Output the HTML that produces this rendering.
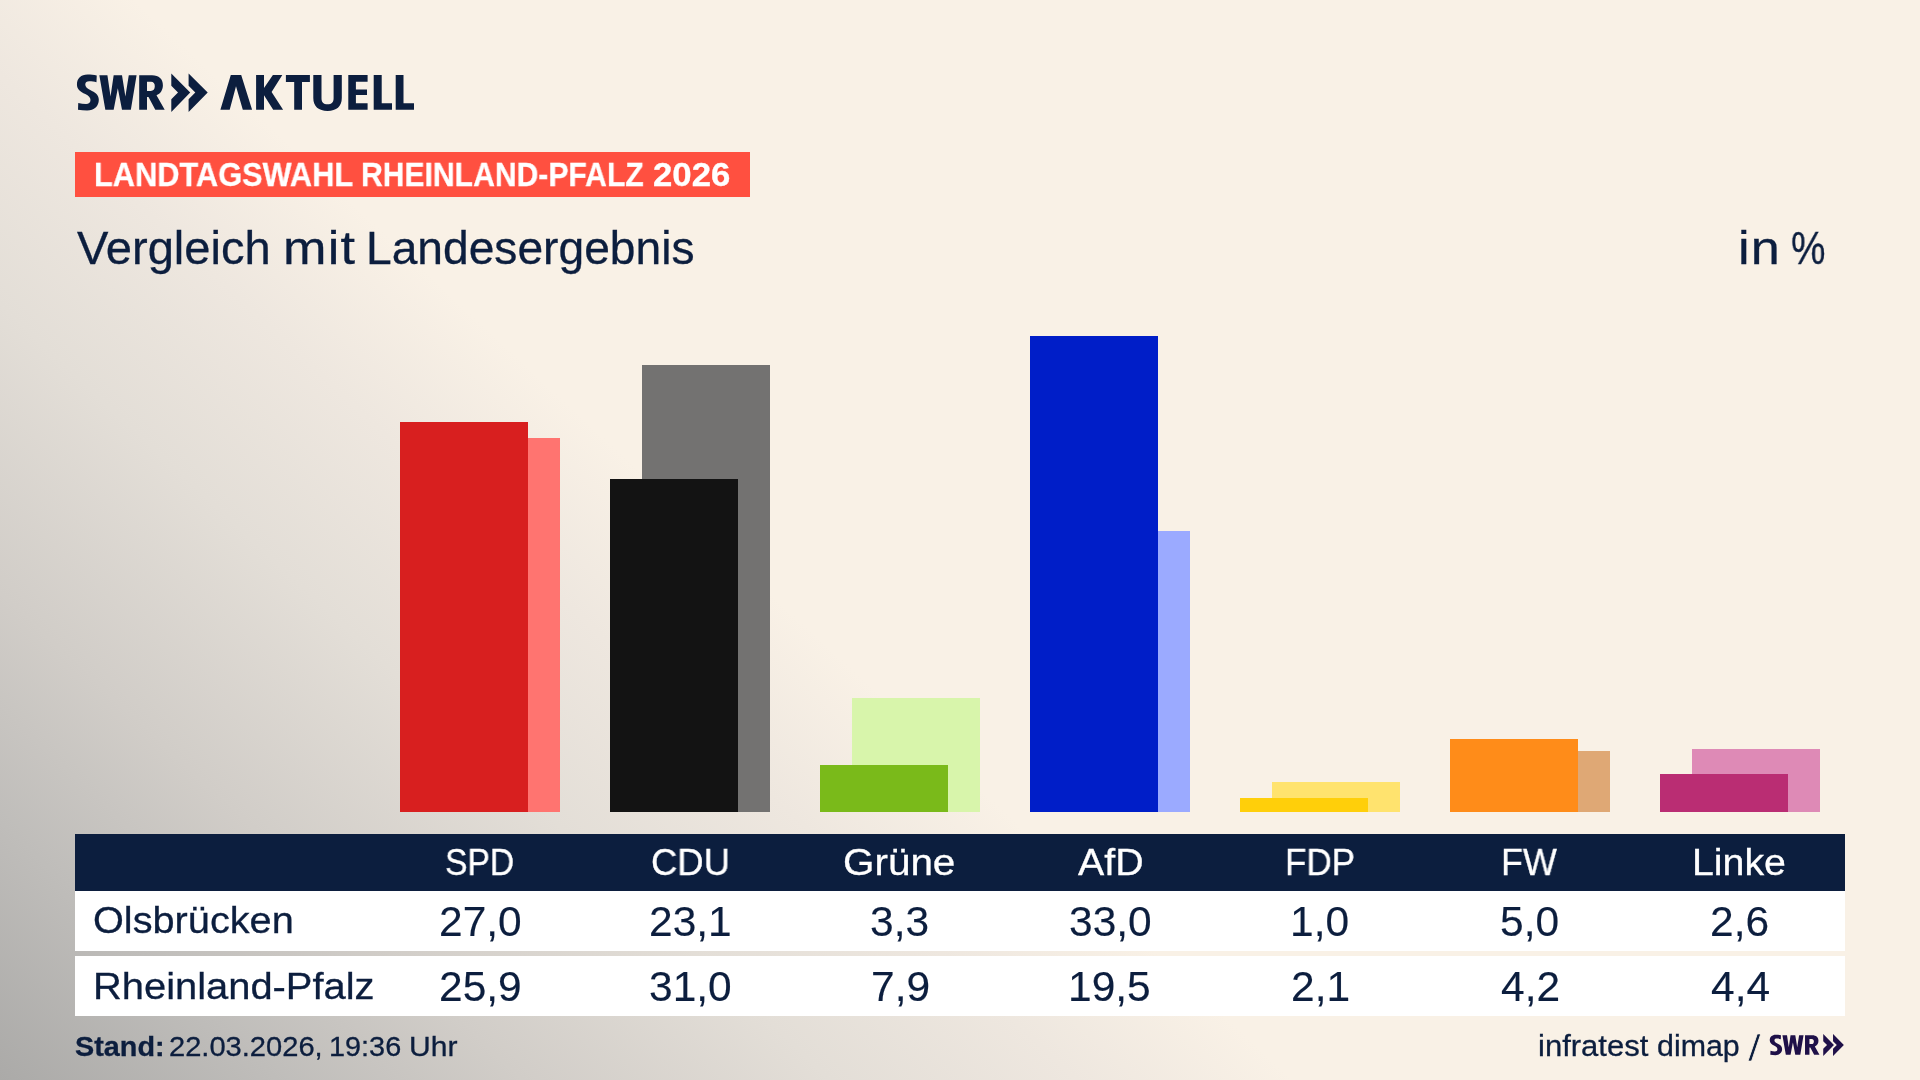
<!DOCTYPE html>
<html lang="de"><head><meta charset="utf-8"><title>Landtagswahl Rheinland-Pfalz 2026 – Vergleich mit Landesergebnis</title>
<style>
html,body{margin:0;padding:0}
body{width:1920px;height:1080px;overflow:hidden;position:relative;font-family:"Liberation Sans",sans-serif;background:#f9f1e6}
#bg{position:absolute;left:0;top:0;width:1920px;height:1080px;background:linear-gradient(43deg,#abaaa8 0%,#bfbdba 9%,#d1cdc8 17%,#e3ded7 27%,#eee7df 35%,#f9f1e6 42%)}
.l{margin:0;padding:0;position:absolute;left:0;top:0;line-height:1}
.t{position:absolute;white-space:nowrap;line-height:1;transform-origin:0 0;-webkit-text-stroke:0.3px currentColor;will-change:transform}
.b{position:absolute;width:128px}
.r{position:absolute;left:75px;width:1770px}
svg{position:absolute;left:0;top:0}
</style></head><body>
<div id="bg"></div>
<div class="r" style="top:152px;width:675px;height:45px;background:#ff5040"></div>
<div class="b" style="left:432px;top:438px;height:374px;background:#ff7470"></div>
<div class="b" style="left:400px;top:422px;height:390px;background:#d81f1f"></div>
<div class="b" style="left:642px;top:365px;height:447px;background:#737271"></div>
<div class="b" style="left:610px;top:479px;height:333px;background:#131313"></div>
<div class="b" style="left:852px;top:698px;height:114px;background:#d8f5ab"></div>
<div class="b" style="left:820px;top:765px;height:47px;background:#7aba1a"></div>
<div class="b" style="left:1062px;top:531px;height:281px;background:#9baaff"></div>
<div class="b" style="left:1030px;top:336px;height:476px;background:#001ec8"></div>
<div class="b" style="left:1272px;top:782px;height:30px;background:#ffe36e"></div>
<div class="b" style="left:1240px;top:798px;height:14px;background:#ffcf0a"></div>
<div class="b" style="left:1482px;top:751px;height:61px;background:#dfa875"></div>
<div class="b" style="left:1450px;top:739px;height:73px;background:#ff8c19"></div>
<div class="b" style="left:1692px;top:749px;height:63px;background:#de8ab6"></div>
<div class="b" style="left:1660px;top:774px;height:38px;background:#ba2d73"></div>
<div class="r" style="top:834px;height:57px;background:#0c1e3e"></div>
<div class="r" style="top:891px;height:60px;background:#fff"></div>
<div class="r" style="top:956px;height:60px;background:#fff"></div>
<svg width="1920" height="1080" viewBox="0 0 1920 1080">
<defs>
<g id="swr">
<path d="M96.74 75.55C93.88 74.77 90.75 74.51 87.62 74.51C80.85 74.51 76.95 78.42 76.95 84.41C76.95 89.35 80.33 91.44 85.28 94.04C88.67 95.86 90.49 97.43 90.49 100.03C90.49 102.64 88.67 103.94 86.06 103.94C83.46 103.94 80.85 103.68 78.25 102.9L77.99 109.67C80.85 110.19 83.98 110.45 87.1 110.45C94.4 110.45 98.82 106.02 98.82 99.77C98.82 94.56 94.92 92.22 90.23 89.88C86.84 88.31 85.28 86.75 85.28 84.41C85.28 82.32 86.84 81.28 89.19 81.28C91.79 81.28 94.4 81.65 96.48 82.32Z"/>
<path d="M99.34 75.3L107.42 75.3L110.54 96.4L113.67 75.3L122 75.3L125.39 96.4L128.77 75.3L136.58 75.3L130.85 109.7L122 109.7L117.83 88.3L113.67 109.7L105.33 109.7Z"/>
<path fill-rule="evenodd" d="M139.2 75.3H152C159 75.3 162.9 79 162.9 85.2C162.9 90 160.5 93.5 156.5 95.3L164.7 109.7H155.3L148.5 97H147V109.7H139.2ZM147 81.8H151C153.5 81.8 154.8 83.5 154.8 86.3C154.8 89.2 153.3 90.9 150.8 90.9H147Z"/>
<path d="M171.3 73.4L190.2 92.5L171.3 111.9V99.3L178 92.5L171.3 85.8Z"/>
<path d="M188.6 73.4L207.7 92.5L188.6 111.9V99.3L195.3 92.5L188.6 85.8Z"/>
</g>
</defs>
<g fill="#0c1e3e" color="#0c1e3e">
<use href="#swr"/>
<path d="M220.4 109.8L230.8 75H241.2L252.1 109.8H242.8L236 86.3L229.7 109.8Z"/>
<path d="M256.1 75H264V88L272.9 75H282.3L271.6 91.9L283.1 109.8H273.2L264 95.3V109.8H256.1Z"/>
<path d="M285.9 75H309.9V81.9H302V109.8H294.2V81.9H285.9Z"/>
<path d="M313.3 75H321.5V98.2C321.5 102.2 323.5 104.3 327.55 104.3C331.6 104.3 333.6 102.2 333.6 98.2V75H341.8V98C341.8 106.5 336.5 110.9 327.6 110.9C318.7 110.9 313.3 106.5 313.3 98Z"/>
<path d="M348.3 75H367.6V81.8H355.9V89.5H367V95.1H355.9V103.3H367.6V109.8H348.3Z"/>
<path d="M373.7 75H381.7V103.3H392V109.8H373.7Z"/>
<path d="M395.7 75H403.5V103.3H414V109.8H395.7Z"/>
</g>
<g fill="#1f1048" color="#1f1048"><use href="#swr" transform="translate(1726.1,992.5) scale(0.567)"/></g>
</svg>

<h1 class="l" style="font-size:33.3px;color:#fff;font-weight:700"><span class="t" style="left:93.75px;top:158px;transform:scaleX(0.9237)">LANDTAGSWAHL</span> <span class="t" style="left:361.29px;top:158px;transform:scaleX(0.9045)">RHEINLAND-PFALZ</span> <span class="t" style="left:652.56px;top:158px;transform:scaleX(1.0431)">2026</span></h1>
<h2 class="l" style="font-size:45.8px;color:#0c1e3e;font-weight:400"><span class="t" style="left:76.90px;top:226px;transform:scaleX(1.0280)">Vergleich</span> <span class="t" style="left:283.08px;top:226px;transform:scaleX(1.1400);letter-spacing:1.04px">mit</span> <span class="t" style="left:366.27px;top:226px;transform:scaleX(1.0078)">Landesergebnis</span></h2>
<div class="l" style="font-size:45.8px;color:#0c1e3e;font-weight:400"><span class="t" style="left:1737.58px;top:226px;transform:scaleX(1.1400);letter-spacing:0.92px">in</span> <span class="t" style="left:1791.21px;top:226px;transform:scaleX(0.8459)">%</span></div>
<div class="l" style="font-size:37.2px;color:#fff;font-weight:400"><span class="t" style="left:445.14px;top:844px;transform:scaleX(0.9055)">SPD</span></div>
<div class="l" style="font-size:37.2px;color:#fff;font-weight:400"><span class="t" style="left:650.79px;top:844px;transform:scaleX(0.9803)">CDU</span></div>
<div class="l" style="font-size:37.2px;color:#fff;font-weight:400"><span class="t" style="left:843.48px;top:844px;transform:scaleX(1.0870)">Grüne</span></div>
<div class="l" style="font-size:37.2px;color:#fff;font-weight:400"><span class="t" style="left:1078.30px;top:844px;transform:scaleX(1.0567)">AfD</span></div>
<div class="l" style="font-size:37.2px;color:#fff;font-weight:400"><span class="t" style="left:1284.67px;top:844px;transform:scaleX(0.9420)">FDP</span></div>
<div class="l" style="font-size:37.2px;color:#fff;font-weight:400"><span class="t" style="left:1500.55px;top:844px;transform:scaleX(0.9655)">FW</span></div>
<div class="l" style="font-size:37.2px;color:#fff;font-weight:400"><span class="t" style="left:1692.43px;top:844px;transform:scaleX(1.0571)">Linke</span></div>
<div class="l" style="font-size:37px;color:#0c1e3e;font-weight:400"><span class="t" style="left:93.05px;top:902px;transform:scaleX(1.0727)">Olsbrücken</span></div>
<div class="l" style="font-size:42px;color:#0c1e3e;font-weight:400"><span class="t" style="left:438.51px;top:901px;transform:scaleX(1.0120);-webkit-text-stroke-width:0.15px">27,0</span></div>
<div class="l" style="font-size:42px;color:#0c1e3e;font-weight:400"><span class="t" style="left:648.51px;top:901px;transform:scaleX(1.0120);-webkit-text-stroke-width:0.15px">23,1</span></div>
<div class="l" style="font-size:42px;color:#0c1e3e;font-weight:400"><span class="t" style="left:870.15px;top:901px;transform:scaleX(1.0120);-webkit-text-stroke-width:0.15px">3,3</span></div>
<div class="l" style="font-size:42px;color:#0c1e3e;font-weight:400"><span class="t" style="left:1068.51px;top:901px;transform:scaleX(1.0120);-webkit-text-stroke-width:0.15px">33,0</span></div>
<div class="l" style="font-size:42px;color:#0c1e3e;font-weight:400"><span class="t" style="left:1289.64px;top:901px;transform:scaleX(1.0120);-webkit-text-stroke-width:0.15px">1,0</span></div>
<div class="l" style="font-size:42px;color:#0c1e3e;font-weight:400"><span class="t" style="left:1500.15px;top:901px;transform:scaleX(1.0120);-webkit-text-stroke-width:0.15px">5,0</span></div>
<div class="l" style="font-size:42px;color:#0c1e3e;font-weight:400"><span class="t" style="left:1710.15px;top:901px;transform:scaleX(1.0120);-webkit-text-stroke-width:0.15px">2,6</span></div>
<div class="l" style="font-size:37px;color:#0c1e3e;font-weight:400"><span class="t" style="left:93.37px;top:968px;transform:scaleX(1.0777)">Rheinland-Pfalz</span></div>
<div class="l" style="font-size:42px;color:#0c1e3e;font-weight:400"><span class="t" style="left:438.51px;top:966px;transform:scaleX(1.0120);-webkit-text-stroke-width:0.15px">25,9</span></div>
<div class="l" style="font-size:42px;color:#0c1e3e;font-weight:400"><span class="t" style="left:648.51px;top:966px;transform:scaleX(1.0120);-webkit-text-stroke-width:0.15px">31,0</span></div>
<div class="l" style="font-size:42px;color:#0c1e3e;font-weight:400"><span class="t" style="left:870.65px;top:966px;transform:scaleX(1.0120);-webkit-text-stroke-width:0.15px">7,9</span></div>
<div class="l" style="font-size:42px;color:#0c1e3e;font-weight:400"><span class="t" style="left:1068.00px;top:966px;transform:scaleX(1.0120);-webkit-text-stroke-width:0.15px">19,5</span></div>
<div class="l" style="font-size:42px;color:#0c1e3e;font-weight:400"><span class="t" style="left:1290.65px;top:966px;transform:scaleX(1.0120);-webkit-text-stroke-width:0.15px">2,1</span></div>
<div class="l" style="font-size:42px;color:#0c1e3e;font-weight:400"><span class="t" style="left:1501.16px;top:966px;transform:scaleX(1.0120);-webkit-text-stroke-width:0.15px">4,2</span></div>
<div class="l" style="font-size:42px;color:#0c1e3e;font-weight:400"><span class="t" style="left:1710.65px;top:966px;transform:scaleX(1.0120);-webkit-text-stroke-width:0.15px">4,4</span></div>
<div class="l" style="font-size:26.8px;color:#0c1e3e;font-weight:400"><span class="t" style="left:74.68px;top:1034px;transform:scaleX(1.0744);font-weight:700">Stand:</span> <span class="t" style="left:169.41px;top:1034px;transform:scaleX(1.0855)">22.03.2026,</span> <span class="t" style="left:329.15px;top:1034px;transform:scaleX(1.0766)">19:36</span> <span class="t" style="left:408.86px;top:1034px;transform:scaleX(1.1220)">Uhr</span></div>
<div class="l" style="font-size:29px;color:#0c1e3e;font-weight:400"><span class="t" style="left:1538.26px;top:1032px;transform:scaleX(1.0693)">infratest</span> <span class="t" style="left:1657.05px;top:1032px;transform:scaleX(1.0468)">dimap</span> <span class="t" style="left:1747.60px;top:1030px;transform:scaleX(1.2400);font-size:37px;-webkit-text-stroke:0.7px #f9f1e6">/</span></div>
</body></html>
